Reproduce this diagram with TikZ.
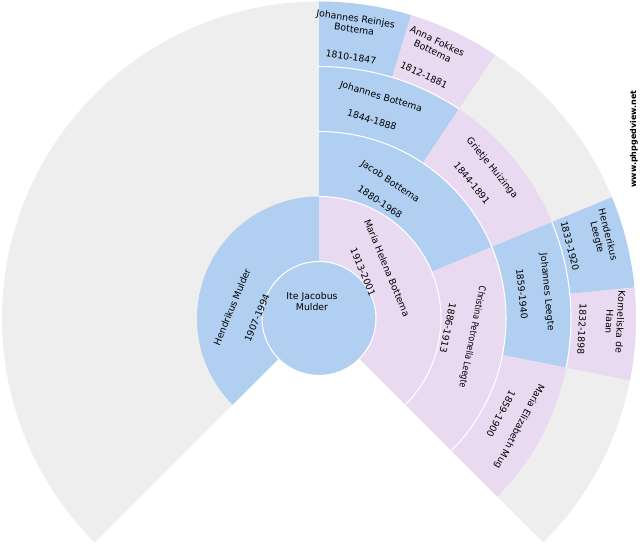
\documentclass[tikz,border=0pt]{standalone}
\usepackage{fontspec}
\setmainfont{DejaVu Sans}
\definecolor{bgM}{HTML}{B1CFF0}
\definecolor{bgF}{HTML}{E9DAF1}
\definecolor{bgG}{HTML}{EEEEEE}
\newcommand{\fansect}[5]{\fill[#1] (#2:#4) arc[start angle=#2, end angle=#3, radius=#4] -- (#3:#5) arc[start angle=#3, end angle=#2, radius=#5] -- cycle;}
\tikzset{
  txt/.style={font=\fontsize{7}{8.25}\selectfont, align=center, inner sep=0pt, text=black},
  sep/.style={draw=white, line width=0.8pt},
  wmark/.style={font=\fontsize{6}{7}\selectfont\bfseries, inner sep=0pt, text=black}
}
\begin{document}
\begin{tikzpicture}[x=0.75pt, y=0.75pt]
\useasboundingbox (0,0) rectangle (640,550);
\begin{scope}[shift={(319,231.5)}]
  % background fan
  \fill[bgG] (0,0) -- (-45:317) arc[start angle=-45, end angle=225, radius=317] -- cycle;
  % generation 1
  \fansect{bgM}{90}{225}{57}{122}
  \fansect{bgF}{-45}{90}{57}{122}
  % generation 2
  \fansect{bgM}{22.5}{90}{122}{187}
  \fansect{bgF}{-45}{22.5}{122}{187}
  % generation 3
  \fansect{bgM}{56.25}{90}{187}{252}
  \fansect{bgF}{22.5}{56.25}{187}{252}
  \fansect{bgM}{-11.25}{22.5}{187}{252}
  \fansect{bgF}{-45}{-11.25}{187}{252}
  % generation 4
  \fansect{bgM}{73.125}{90}{252}{317}
  \fansect{bgF}{56.25}{73.125}{252}{317}
  \fansect{bgM}{5.625}{22.5}{252}{317}
  \fansect{bgF}{-11.25}{5.625}{252}{317}
  % centre
  \fill[bgM] (0,0) circle[radius=57];
  % separators
  \draw[sep] (0,0) circle[radius=57];
  \draw[sep] (-45:122) arc[start angle=-45, end angle=90, radius=122];
  \draw[sep] (-45:187) arc[start angle=-45, end angle=90, radius=187];
  \draw[sep] (56.25:252) arc[start angle=56.25, end angle=90, radius=252];
  \draw[sep] (-11.25:252) arc[start angle=-11.25, end angle=22.5, radius=252];
\end{scope}
% texts
\node[txt] (p1) at (312,248.5) {Ite Jacobus\\Mulder};
\node[txt, rotate=67.5] (p2n) at (232,243) {Hendrikus Mulder};
\node[txt, rotate=67.5] (p2d) at (257,232) {1907-1994};
\node[txt, rotate=-67.5] (p3n) at (387,282) {Maria Helena Bottema};
\node[txt, rotate=-67.5] (p3d) at (363,278) {1913-2001};
\node[txt, rotate=-33.75] (p6n) at (390,368) {Jacob Bottema};
\node[txt, rotate=-33.75] (p6d) at (380,348) {1880-1968};
\node[txt, rotate=-101.25] (p7n) at (472,213) {\scalebox{0.82}[1]{Christina Petronella Leegte}};
\node[txt, rotate=-101.25] (p7d) at (448,222) {1886-1913};
\node[txt, rotate=-16.875] (p12n) at (381,453) {Johannes Bottema};
\node[txt, rotate=-16.875] (p12d) at (372,430) {1844-1888};
\node[txt, rotate=-50.625] (p13n) at (492,382) {Grietje Huizinga};
\node[txt, rotate=-50.625] (p13d) at (472,367) {1844-1891};
\node[txt, rotate=-84.375] (p14n) at (547,258) {Johannes Leegte};
\node[txt, rotate=-84.375] (p14d) at (522,256) {1859-1940};
\node[txt, rotate=-118.125] (p15n) at (519,124) {Maria Elizabeth Mug};
\node[txt, rotate=-118.125] (p15d) at (501,136) {1859-1900};
\node[txt, rotate=-8.4] (p24n) at (355,526) {Johannes Reinjes\\Bottema};
\node[txt, rotate=-8.4] (p24d) at (351,493) {1810-1847};
\node[txt, rotate=-25.3] (p25n) at (435,504) {Anna Fokkes\\Bottema};
\node[txt, rotate=-25.3] (p25d) at (424,475) {1812-1881};
\node[txt, rotate=-75.9] (p28n) at (602,314) {Henderikus\\Leegte};
\node[txt, rotate=-75.9] (p28d) at (570,304) {1833-1920};
\node[txt, rotate=-92.8] (p29n) at (615,228) {Korneliska de\\Haan};
\node[txt, rotate=-92.8] (p29d) at (582,221) {1832-1898};
\node[wmark, rotate=90] (wm) at (634,411) {www.phpgedview.net};
\end{tikzpicture}
\end{document}
